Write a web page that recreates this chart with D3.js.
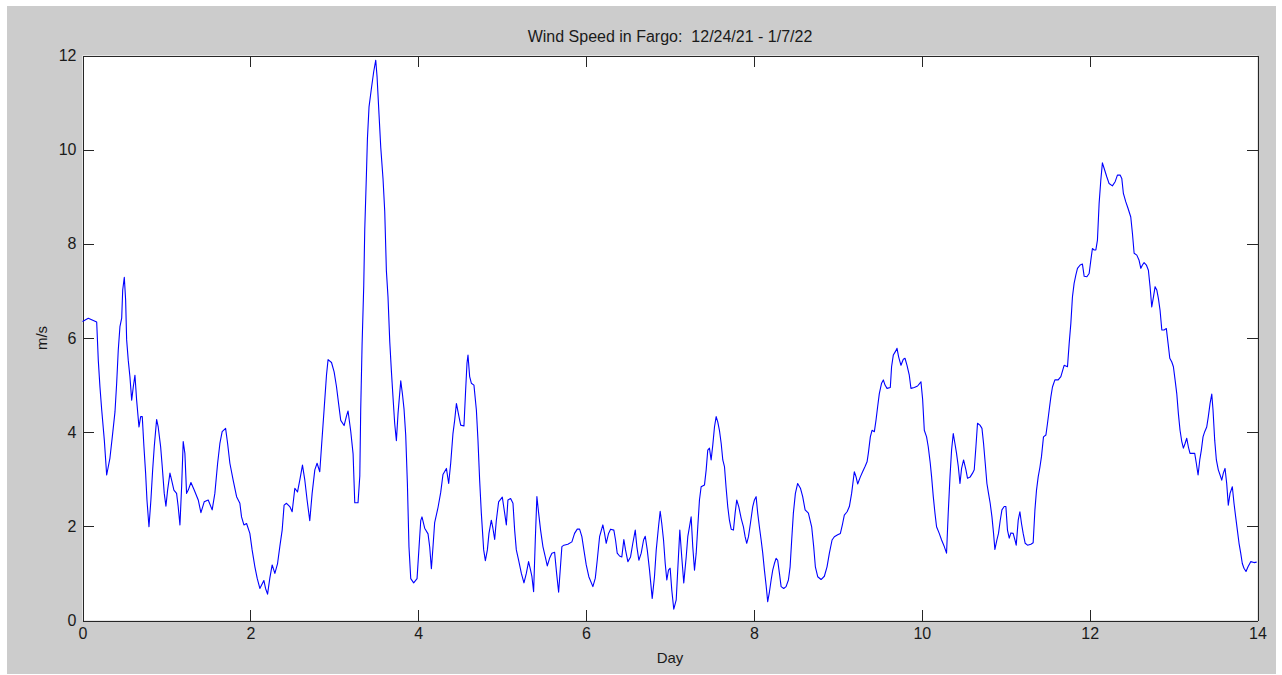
<!DOCTYPE html>
<html>
<head>
<meta charset="utf-8">
<script src="https://cdn.jsdelivr.net/npm/d3@7"></script>
<style>
  html, body { margin: 0; padding: 0; background: #ffffff; }
  svg { display: block; font-family: "Liberation Sans", Arial, Helvetica, sans-serif; }
</style>
</head>
<body>
<svg id="chart" width="1282" height="675"></svg>
<script>
// ---- data ----
const chartTitle = "Wind Speed in Fargo:  12/24/21 - 1/7/22";
const xLabel = "Day";
const yLabel = "m/s";
const xTicks = [0, 2, 4, 6, 8, 10, 12, 14];
const yTicks = [0, 2, 4, 6, 8, 10, 12];

// [day, wind speed m/s]
const windSeries = [
[0,6.35],[0.069,6.42],[0.169,6.34],[0.188,5.53],[0.208,4.96],[0.229,4.47],[0.260,3.83],[0.288,3.09],
[0.327,3.45],[0.355,3.90],[0.387,4.43],[0.407,5.04],[0.426,5.74],[0.446,6.24],[0.467,6.42],[0.479,7.02],
[0.498,7.29],[0.514,6.80],[0.526,5.96],[0.545,5.53],[0.565,5.18],[0.586,4.68],[0.605,4.96],[0.625,5.21],
[0.645,4.68],[0.673,4.11],[0.693,4.33],[0.712,4.33],[0.732,3.69],[0.752,3.13],[0.768,2.56],[0.792,1.99],
[0.815,2.56],[0.836,3.20],[0.855,3.69],[0.883,4.27],[0.902,4.11],[0.931,3.69],[0.950,3.27],[0.974,2.70],
[0.994,2.43],[1.014,2.77],[1.042,3.13],[1.062,2.98],[1.089,2.77],[1.121,2.70],[1.140,2.42],[1.161,2.03],
[1.181,2.84],[1.200,3.80],[1.220,3.55],[1.240,2.70],[1.260,2.77],[1.292,2.93],[1.331,2.77],
[1.379,2.56],[1.411,2.29],[1.450,2.52],[1.498,2.56],[1.545,2.35],[1.577,2.70],[1.610,3.34],[1.637,3.76],
[1.664,4.01],[1.705,4.08],[1.729,3.76],[1.756,3.34],[1.795,2.98],[1.836,2.63],[1.875,2.49],[1.895,2.20],
[1.923,2.03],[1.955,2.06],[1.994,1.85],[2.021,1.50],[2.054,1.14],[2.081,0.90],[2.113,0.68],[2.161,0.85],
[2.181,0.68],[2.205,0.56],[2.232,0.90],[2.260,1.18],[2.292,1.00],[2.324,1.21],[2.351,1.57],[2.379,1.92],
[2.402,2.45],[2.431,2.49],[2.470,2.42],[2.498,2.31],[2.530,2.81],[2.562,2.73],[2.589,2.98],[2.621,3.30],
[2.649,2.98],[2.676,2.56],[2.708,2.12],[2.736,2.70],[2.768,3.20],[2.795,3.34],[2.827,3.16],
[2.848,3.70],[2.879,4.49],[2.907,5.21],[2.926,5.54],[2.967,5.48],[2.998,5.28],[3.026,4.97],[3.054,4.57],
[3.077,4.25],[3.117,4.14],[3.145,4.34],[3.164,4.45],[3.196,4.02],[3.224,3.54],[3.244,2.50],[3.283,2.50],
[3.304,3.07],[3.315,4.49],[3.331,5.84],[3.351,7.11],[3.363,8.30],[3.383,9.48],[3.395,10.24],[3.414,10.91],
[3.443,11.31],[3.470,11.66],[3.494,11.90],[3.510,11.54],[3.533,10.75],[3.554,10.04],[3.581,9.37],[3.601,8.69],
[3.621,7.42],[3.640,6.87],[3.661,5.92],[3.681,5.28],[3.700,4.73],[3.720,4.18],[3.740,3.82],[3.760,4.41],
[3.792,5.09],[3.812,4.81],[3.831,4.49],[3.851,3.94],[3.871,2.91],[3.890,1.56],[3.911,0.89],[3.946,0.80],
[3.986,0.89],[4.010,1.56],[4.030,2.12],[4.045,2.20],[4.077,1.96],[4.117,1.84],[4.137,1.56],[4.157,1.10],
[4.176,1.56],[4.196,2.08],[4.236,2.40],[4.268,2.72],[4.295,3.10],[4.336,3.23],[4.363,2.91],[4.387,3.34],
[4.414,3.97],[4.435,4.26],[4.455,4.61],[4.482,4.36],[4.506,4.15],[4.545,4.13],[4.565,4.89],[4.581,5.46],
[4.593,5.64],[4.613,5.18],[4.633,5.04],[4.664,5.00],[4.693,4.47],[4.712,3.83],[4.732,2.98],[4.752,2.28],
[4.780,1.50],[4.800,1.27],[4.824,1.50],[4.843,1.85],[4.871,2.13],[4.890,1.96],[4.911,1.72],[4.931,2.13],
[4.958,2.52],[5.002,2.62],[5.030,2.28],[5.050,2.03],[5.069,2.56],[5.101,2.59],[5.129,2.49],[5.149,1.92],
[5.169,1.50],[5.196,1.28],[5.229,1.00],[5.260,0.80],[5.288,1.00],[5.315,1.25],[5.336,1.09],[5.355,0.93],
[5.375,0.61],[5.395,1.71],[5.414,2.63],[5.435,2.28],[5.458,1.92],[5.486,1.57],[5.514,1.35],[5.538,1.16],
[5.565,1.32],[5.593,1.43],[5.625,1.45],[5.649,1.00],[5.673,0.60],[5.693,1.10],[5.712,1.57],[5.736,1.60],
[5.783,1.62],[5.831,1.67],[5.863,1.85],[5.895,1.94],[5.923,1.94],[5.950,1.78],[5.974,1.50],[6.002,1.18],
[6.033,0.93],[6.081,0.72],[6.110,0.90],[6.133,1.28],[6.161,1.78],[6.200,2.03],[6.220,1.85],[6.240,1.64],
[6.268,1.85],[6.292,1.94],[6.331,1.92],[6.351,1.71],[6.371,1.43],[6.399,1.37],[6.426,1.35],[6.450,1.72],
[6.470,1.50],[6.498,1.25],[6.530,1.35],[6.557,1.64],[6.586,1.92],[6.605,1.57],[6.629,1.28],[6.657,1.43],
[6.685,1.71],[6.705,1.79],[6.729,1.50],[6.756,1.07],[6.788,0.47],[6.815,0.93],[6.836,1.50],[6.863,1.99],
[6.883,2.32],[6.902,2.06],[6.923,1.71],[6.943,1.21],[6.962,0.86],[6.982,1.07],[7.002,1.11],[7.021,0.65],
[7.045,0.24],[7.074,0.44],[7.093,1.10],[7.117,1.92],[7.140,1.35],[7.164,0.80],[7.193,1.35],[7.212,1.78],
[7.232,1.99],[7.252,2.20],[7.271,1.57],[7.292,1.07],[7.312,1.43],[7.331,1.99],[7.351,2.56],[7.371,2.84],
[7.411,2.88],[7.431,3.20],[7.450,3.62],[7.470,3.66],[7.490,3.41],[7.510,3.73],[7.530,4.11],[7.550,4.33],
[7.569,4.22],[7.589,4.04],[7.610,3.76],[7.629,3.41],[7.649,3.27],[7.669,2.81],[7.688,2.42],[7.708,2.13],
[7.729,1.94],[7.756,1.92],[7.776,2.28],[7.795,2.56],[7.819,2.42],[7.848,2.17],[7.875,1.99],[7.895,1.78],
[7.914,1.64],[7.935,1.78],[7.958,2.06],[7.986,2.42],[8.006,2.56],[8.026,2.63],[8.045,2.28],[8.065,1.99],
[8.086,1.71],[8.105,1.43],[8.125,1.07],[8.145,0.75],[8.164,0.40],[8.185,0.61],[8.205,0.86],[8.224,1.07],
[8.244,1.21],[8.264,1.32],[8.283,1.28],[8.304,1.00],[8.324,0.72],[8.355,0.68],[8.383,0.72],[8.411,0.86],
[8.431,1.14],[8.450,1.71],[8.470,2.28],[8.494,2.70],[8.521,2.91],[8.554,2.81],[8.581,2.63],[8.610,2.35],
[8.649,2.28],[8.688,1.99],[8.712,1.57],[8.732,1.14],[8.760,0.93],[8.800,0.87],[8.839,0.94],[8.871,1.14],
[8.899,1.43],[8.931,1.71],[8.958,1.78],[8.998,1.82],[9.030,1.85],[9.057,2.06],[9.077,2.24],[9.110,2.31],
[9.137,2.42],[9.164,2.70],[9.196,3.16],[9.217,3.05],[9.236,2.90],[9.268,3.05],[9.295,3.16],[9.324,3.27],
[9.348,3.37],[9.363,3.55],[9.387,3.90],[9.407,4.04],[9.435,4.01],[9.455,4.26],[9.474,4.54],[9.494,4.82],
[9.521,5.04],[9.542,5.11],[9.562,5.00],[9.586,4.93],[9.625,4.95],[9.640,5.39],[9.661,5.64],[9.685,5.71],
[9.705,5.78],[9.724,5.60],[9.752,5.42],[9.780,5.55],[9.800,5.57],[9.824,5.42],[9.851,5.21],[9.871,4.93],
[9.911,4.95],[9.950,4.98],[9.990,5.07],[10.010,4.70],[10.030,4.04],[10.057,3.90],[10.077,3.69],[10.101,3.34],
[10.117,3.05],[10.137,2.63],[10.157,2.28],[10.176,1.99],[10.208,1.85],[10.236,1.71],[10.268,1.57],[10.295,1.43],
[10.315,2.28],[10.336,3.05],[10.355,3.62],[10.375,3.97],[10.395,3.76],[10.414,3.55],[10.435,3.27],[10.455,2.91],
[10.474,3.23],[10.498,3.41],[10.526,3.20],[10.545,3.02],[10.577,3.05],[10.605,3.13],[10.625,3.20],[10.645,3.69],
[10.664,4.19],[10.693,4.15],[10.717,4.08],[10.736,3.76],[10.756,3.34],[10.776,2.91],[10.795,2.70],[10.815,2.49],
[10.836,2.20],[10.855,1.85],[10.871,1.51],[10.895,1.71],[10.914,1.85],[10.935,2.13],[10.955,2.35],[10.982,2.42],
[11.002,2.42],[11.021,1.92],[11.042,1.75],[11.062,1.86],[11.089,1.85],[11.110,1.71],[11.125,1.60],[11.149,2.13],
[11.169,2.31],[11.188,2.06],[11.208,1.85],[11.232,1.64],[11.260,1.60],[11.300,1.62],[11.327,1.65],[11.348,2.35],
[11.367,2.77],[11.387,3.05],[11.407,3.25],[11.426,3.48],[11.450,3.90],[11.479,3.94],[11.498,4.19],[11.518,4.47],
[11.538,4.75],[11.557,4.96],[11.586,5.11],[11.625,5.11],[11.657,5.18],[11.696,5.42],[11.736,5.39],[11.756,5.88],
[11.776,6.31],[11.795,6.87],[11.815,7.16],[11.836,7.34],[11.855,7.48],[11.887,7.55],[11.914,7.57],[11.935,7.31],
[11.967,7.30],[11.994,7.37],[12.014,7.65],[12.033,7.90],[12.054,7.87],[12.074,7.87],[12.093,8.08],[12.113,8.86],
[12.133,9.35],[12.152,9.72],[12.173,9.60],[12.205,9.42],[12.232,9.28],[12.271,9.23],[12.304,9.32],[12.331,9.46],
[12.363,9.46],[12.383,9.39],[12.402,9.07],[12.431,8.89],[12.458,8.75],[12.490,8.57],[12.510,8.22],[12.530,7.80],
[12.562,7.76],[12.589,7.65],[12.610,7.48],[12.629,7.55],[12.649,7.60],[12.676,7.55],[12.700,7.44],[12.720,7.09],
[12.740,6.66],[12.760,6.87],[12.780,7.09],[12.800,7.02],[12.819,6.84],[12.839,6.59],[12.860,6.17],[12.887,6.17],
[12.914,6.20],[12.935,5.88],[12.955,5.57],[12.979,5.49],[12.998,5.39],[13.018,5.11],[13.038,4.82],[13.057,4.40],
[13.077,4.04],[13.098,3.80],[13.117,3.66],[13.137,3.76],[13.157,3.87],[13.176,3.69],[13.196,3.55],[13.224,3.55],
[13.252,3.55],[13.271,3.34],[13.292,3.09],[13.312,3.41],[13.331,3.62],[13.351,3.90],[13.371,4.01],[13.395,4.11],
[13.414,4.33],[13.435,4.61],[13.455,4.81],[13.470,4.47],[13.490,3.83],[13.510,3.41],[13.533,3.20],[13.554,3.09],
[13.574,2.98],[13.593,3.13],[13.613,3.23],[13.633,2.91],[13.652,2.45],[13.673,2.70],[13.700,2.84],[13.720,2.49],
[13.740,2.20],[13.760,1.92],[13.780,1.64],[13.800,1.43],[13.819,1.21],[13.839,1.11],[13.863,1.04],[13.887,1.14],
[13.919,1.25],[13.958,1.23],[13.990,1.24]
];

// ---- drawing ----
const W = 1282, H = 675;
const plot = { left: 82.5, right: 1257.5, top: 55.5, bottom: 620.5 };
const svg = d3.select("#chart");

// figure background
svg.append("rect").attr("x", 0).attr("y", 0).attr("width", W).attr("height", H).attr("fill", "#ffffff");
svg.append("rect").attr("x", 7).attr("y", 6).attr("width", 1269).attr("height", 668).attr("fill", "#cccccc");

// plot area
svg.append("rect")
  .attr("x", plot.left).attr("y", plot.top)
  .attr("width", plot.right - plot.left).attr("height", plot.bottom - plot.top)
  .attr("fill", "#ffffff");

const x = d3.scaleLinear().domain([0, 14]).range([plot.left, plot.right]);
const y = d3.scaleLinear().domain([0, 12]).range([plot.bottom, plot.top]);

const axisColor = "#262626";
const tickLen = 11;

function styleAxis(g) {
  g.selectAll("path.domain").attr("stroke", axisColor).attr("stroke-width", 1).attr("shape-rendering", "crispEdges");
  g.selectAll(".tick line").attr("stroke", axisColor).attr("stroke-width", 1).attr("shape-rendering", "crispEdges");
  g.selectAll(".tick text").attr("fill", "#1a1a1a").style("font-size", "16px")
    .style("font-family", "\"Liberation Sans\", Arial, sans-serif");
}

// bottom axis with labels
svg.append("g").attr("transform", `translate(0,${plot.bottom})`)
  .call(d3.axisBottom(x).tickValues(xTicks).tickFormat(d3.format("d")).tickSizeInner(-tickLen).tickSizeOuter(0).tickPadding(7))
  .call(styleAxis);
// top axis (ticks only)
svg.append("g").attr("transform", `translate(0,${plot.top})`)
  .call(d3.axisTop(x).tickValues(xTicks).tickFormat("").tickSizeInner(-tickLen).tickSizeOuter(0))
  .call(styleAxis);
// left axis with labels
svg.append("g").attr("transform", `translate(${plot.left},0)`)
  .call(d3.axisLeft(y).tickValues(yTicks).tickFormat(d3.format("d")).tickSizeInner(-tickLen).tickSizeOuter(0).tickPadding(6))
  .call(styleAxis);
// right axis (ticks only)
svg.append("g").attr("transform", `translate(${plot.right},0)`)
  .call(d3.axisRight(y).tickValues(yTicks).tickFormat("").tickSizeInner(-tickLen).tickSizeOuter(0))
  .call(styleAxis);

// data line
const line = d3.line().x(d => x(d[0])).y(d => y(d[1]));
svg.append("path")
  .datum(windSeries)
  .attr("d", line)
  .attr("fill", "none")
  .attr("stroke", "#0000ff")
  .attr("stroke-width", 1.1)
  .attr("stroke-linejoin", "round");

// title & labels
svg.append("text")
  .attr("x", 670).attr("y", 42)
  .attr("text-anchor", "middle")
  .attr("xml:space", "preserve")
  .style("white-space", "pre")
  .style("font-size", "16px").attr("fill", "#1a1a1a")
  .text(chartTitle);

svg.append("text")
  .attr("x", (plot.left + plot.right) / 2).attr("y", 663)
  .attr("text-anchor", "middle")
  .style("font-size", "15px").attr("fill", "#1a1a1a")
  .text(xLabel);

svg.append("text")
  .attr("transform", `translate(47,${(plot.top + plot.bottom) / 2}) rotate(-90)`)
  .attr("text-anchor", "middle")
  .style("font-size", "15px").attr("fill", "#1a1a1a")
  .text(yLabel);
</script>
</body>
</html>
